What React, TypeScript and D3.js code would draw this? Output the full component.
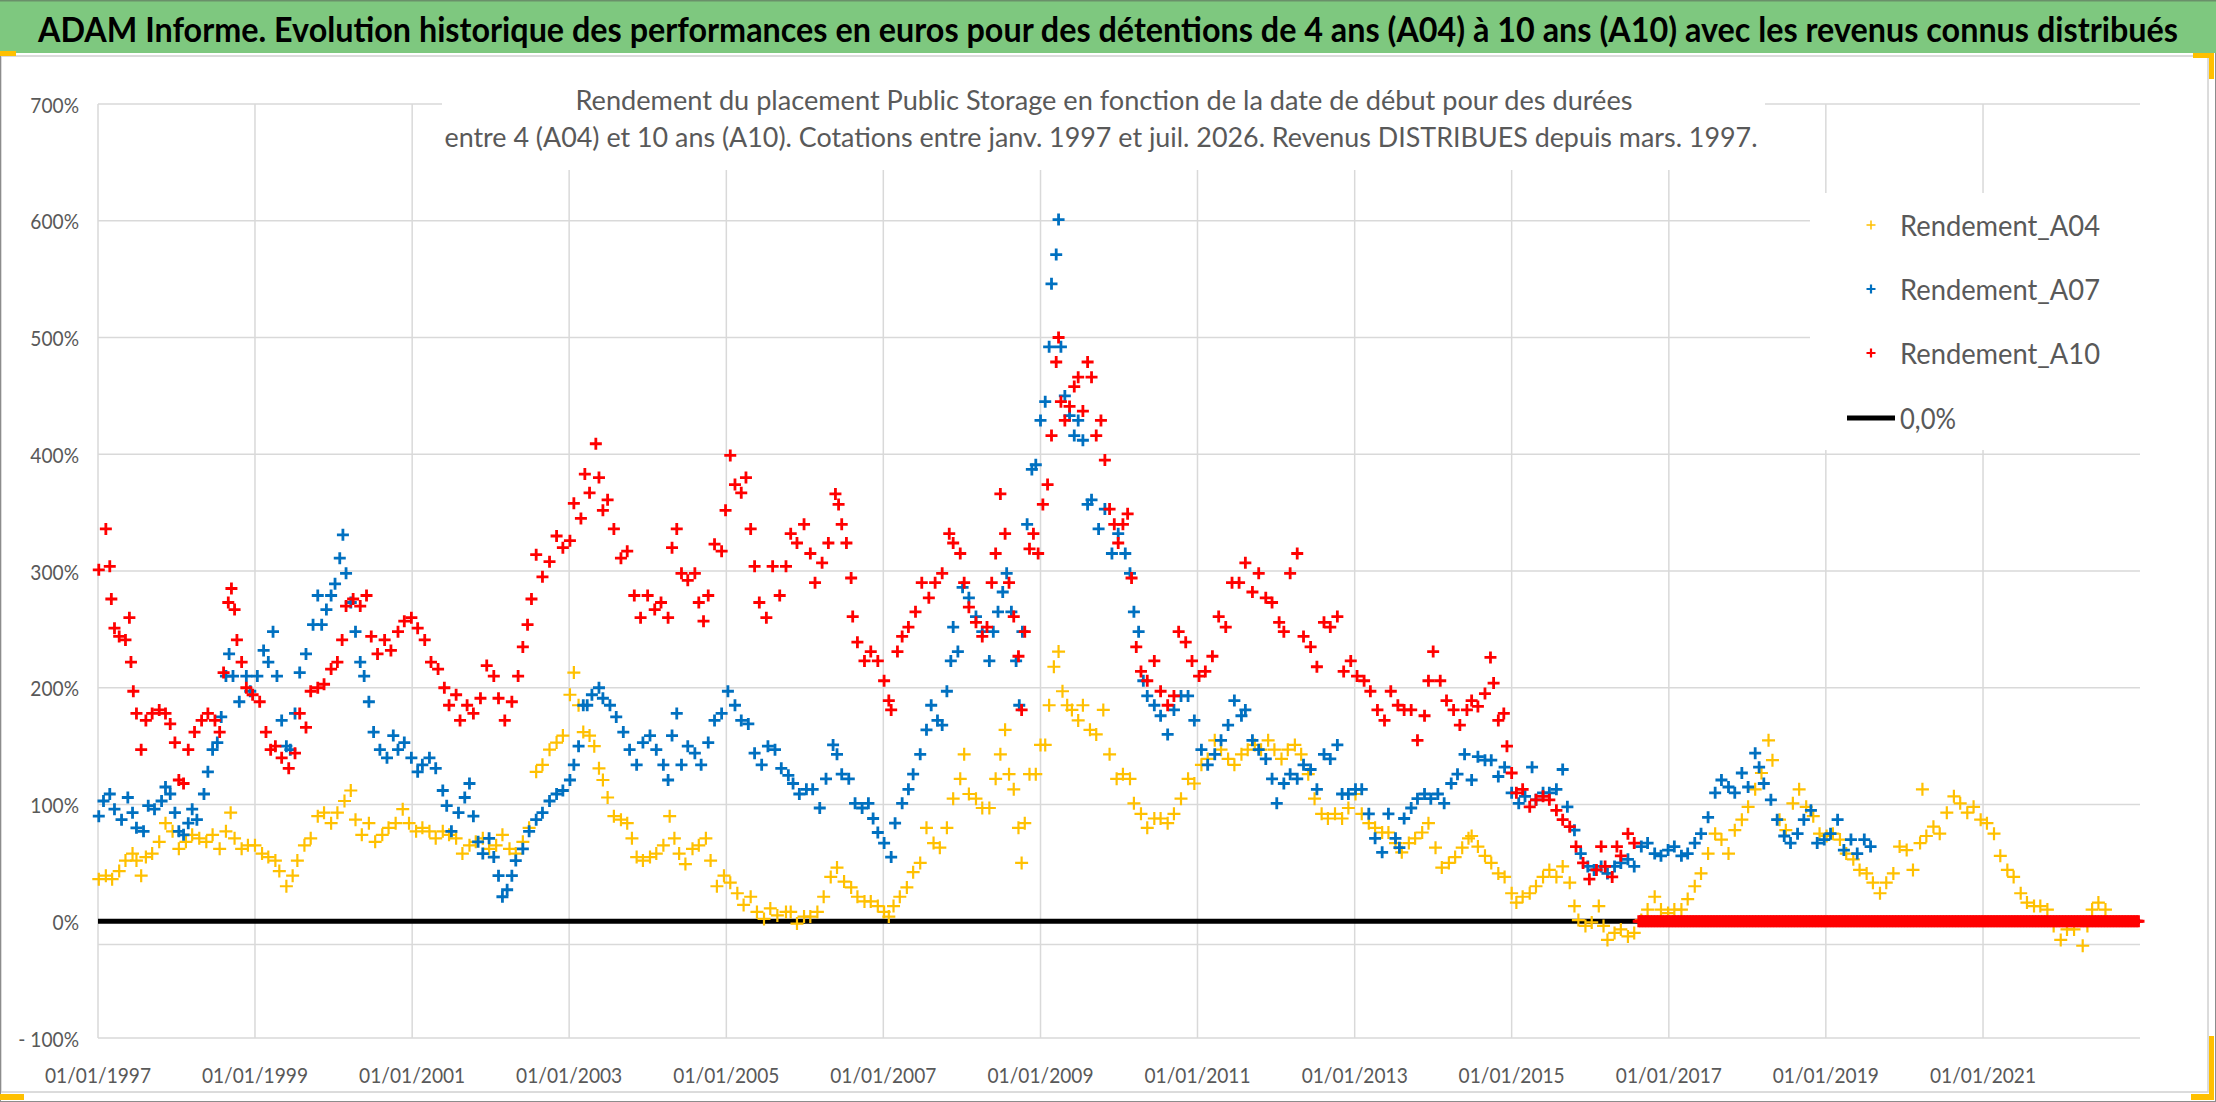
import { useEffect, useRef } from 'react';
import * as d3 from 'd3';

// [start date as decimal year, return (1 = 100%)]
type Pt = [number, number];

const rendementA04: Pt[] = [
  [1997.01, 0.36], [1997.10, 0.39], [1997.18, 0.36], [1997.27, 0.43], [1997.35, 0.52], [1997.44, 0.58], [1997.49, 0.52], [1997.55, 0.39],
  [1997.61, 0.55], [1997.69, 0.58], [1997.78, 0.68], [1997.86, 0.84], [1997.95, 0.77], [1998.03, 0.62], [1998.12, 0.68], [1998.20, 0.74],
  [1998.29, 0.71], [1998.38, 0.68], [1998.46, 0.74], [1998.55, 0.62], [1998.63, 0.77], [1998.69, 0.93], [1998.74, 0.71], [1998.83, 0.62],
  [1998.91, 0.65], [1999.00, 0.65], [1999.09, 0.58], [1999.17, 0.55], [1999.26, 0.52], [1999.31, 0.43], [1999.40, 0.30], [1999.48, 0.39],
  [1999.54, 0.52], [1999.63, 0.65], [1999.71, 0.71], [1999.80, 0.90], [1999.88, 0.93], [1999.97, 0.84], [2000.05, 0.93], [2000.14, 1.03],
  [2000.22, 1.12], [2000.28, 0.87], [2000.36, 0.74], [2000.45, 0.84], [2000.53, 0.68], [2000.62, 0.74], [2000.70, 0.80], [2000.79, 0.84],
  [2000.88, 0.96], [2000.96, 0.84], [2001.05, 0.77], [2001.13, 0.80], [2001.22, 0.77], [2001.30, 0.71], [2001.39, 0.77], [2001.47, 0.74],
  [2001.56, 0.71], [2001.64, 0.58], [2001.73, 0.65], [2001.81, 0.68], [2001.90, 0.71], [2001.98, 0.62], [2002.07, 0.65], [2002.15, 0.74],
  [2002.24, 0.62], [2002.32, 0.58], [2002.41, 0.68], [2002.49, 0.80], [2002.58, 1.28], [2002.66, 1.34], [2002.75, 1.47], [2002.84, 1.53],
  [2002.92, 1.59], [2003.01, 1.94], [2003.06, 2.13], [2003.12, 1.85], [2003.18, 1.62], [2003.26, 1.59], [2003.32, 1.50], [2003.38, 1.31],
  [2003.43, 1.21], [2003.49, 1.06], [2003.57, 0.90], [2003.66, 0.87], [2003.74, 0.84], [2003.80, 0.71], [2003.86, 0.55], [2003.94, 0.52],
  [2004.03, 0.55], [2004.11, 0.58], [2004.20, 0.65], [2004.28, 0.90], [2004.34, 0.71], [2004.40, 0.58], [2004.48, 0.49], [2004.57, 0.62],
  [2004.65, 0.65], [2004.74, 0.71], [2004.80, 0.52], [2004.88, 0.30], [2004.97, 0.39], [2005.05, 0.33], [2005.14, 0.24], [2005.22, 0.14],
  [2005.31, 0.21], [2005.39, 0.08], [2005.48, 0.02], [2005.56, 0.11], [2005.65, 0.05], [2005.76, 0.08], [2005.82, 0.08], [2005.90, -0.02],
  [2005.99, 0.04], [2006.07, 0.04], [2006.16, 0.08], [2006.24, 0.21], [2006.33, 0.38], [2006.41, 0.46], [2006.50, 0.34], [2006.59, 0.29],
  [2006.67, 0.21], [2006.76, 0.17], [2006.84, 0.17], [2006.93, 0.13], [2007.01, 0.08], [2007.07, 0.04], [2007.13, 0.13], [2007.21, 0.21],
  [2007.30, 0.29], [2007.38, 0.42], [2007.47, 0.50], [2007.55, 0.80], [2007.64, 0.67], [2007.72, 0.63], [2007.81, 0.80], [2007.89, 1.05],
  [2007.98, 1.22], [2008.03, 1.43], [2008.09, 1.09], [2008.18, 1.05], [2008.26, 0.97], [2008.35, 0.97], [2008.43, 1.22], [2008.49, 1.43],
  [2008.55, 1.64], [2008.60, 1.26], [2008.66, 1.13], [2008.72, 0.80], [2008.76, 0.50], [2008.80, 0.84], [2008.86, 1.26], [2008.94, 1.26],
  [2009.00, 1.51], [2009.06, 1.51], [2009.11, 1.85], [2009.17, 2.18], [2009.23, 2.31], [2009.28, 1.97], [2009.34, 1.85], [2009.40, 1.81],
  [2009.48, 1.72], [2009.54, 1.85], [2009.63, 1.64], [2009.71, 1.60], [2009.80, 1.81], [2009.88, 1.43], [2009.97, 1.22], [2010.05, 1.26],
  [2010.14, 1.22], [2010.19, 1.01], [2010.28, 0.92], [2010.36, 0.80], [2010.45, 0.88], [2010.53, 0.88], [2010.62, 0.84], [2010.70, 0.92],
  [2010.79, 1.05], [2010.88, 1.22], [2010.96, 1.18], [2011.05, 1.34], [2011.13, 1.39], [2011.22, 1.55], [2011.30, 1.47], [2011.39, 1.39],
  [2011.47, 1.34], [2011.56, 1.43], [2011.64, 1.47], [2011.73, 1.51], [2011.81, 1.47], [2011.90, 1.55], [2011.98, 1.47], [2012.07, 1.39],
  [2012.15, 1.47], [2012.24, 1.51], [2012.32, 1.43], [2012.41, 1.26], [2012.49, 1.05], [2012.58, 0.92], [2012.66, 0.88], [2012.75, 0.92],
  [2012.84, 0.88], [2012.92, 0.97], [2013.01, 1.09], [2013.09, 0.92], [2013.18, 0.84], [2013.26, 0.80], [2013.35, 0.76], [2013.43, 0.76],
  [2013.52, 0.67], [2013.60, 0.59], [2013.69, 0.67], [2013.77, 0.71], [2013.86, 0.76], [2013.94, 0.84], [2014.03, 0.63], [2014.11, 0.46],
  [2014.20, 0.50], [2014.28, 0.55], [2014.37, 0.63], [2014.45, 0.71], [2014.49, 0.73], [2014.57, 0.64], [2014.66, 0.56], [2014.74, 0.50],
  [2014.83, 0.41], [2014.91, 0.38], [2015.00, 0.24], [2015.06, 0.16], [2015.14, 0.21], [2015.23, 0.24], [2015.31, 0.30], [2015.40, 0.38],
  [2015.48, 0.44], [2015.57, 0.38], [2015.65, 0.47], [2015.74, 0.33], [2015.80, 0.13], [2015.85, 0.01], [2015.94, -0.04], [2016.02, -0.01],
  [2016.11, 0.13], [2016.17, -0.04], [2016.22, -0.16], [2016.31, -0.10], [2016.39, -0.07], [2016.48, -0.13], [2016.56, -0.10], [2016.65, 0.01],
  [2016.73, 0.10], [2016.82, 0.21], [2016.90, 0.10], [2016.99, 0.07], [2017.07, 0.10], [2017.16, 0.10], [2017.24, 0.19], [2017.33, 0.30],
  [2017.41, 0.41], [2017.50, 0.58], [2017.59, 0.75], [2017.67, 0.70], [2017.76, 0.58], [2017.84, 0.78], [2017.93, 0.87], [2018.01, 0.98],
  [2018.10, 1.13], [2018.18, 1.27], [2018.27, 1.55], [2018.32, 1.38], [2018.41, 0.87], [2018.49, 0.78], [2018.58, 1.01], [2018.66, 1.13],
  [2018.75, 0.98], [2018.84, 0.90], [2018.92, 0.75], [2019.01, 0.73], [2019.09, 0.75], [2019.18, 0.70], [2019.26, 0.58], [2019.35, 0.53],
  [2019.43, 0.44], [2019.52, 0.41], [2019.60, 0.33], [2019.69, 0.24], [2019.77, 0.33], [2019.86, 0.41], [2019.94, 0.64], [2020.03, 0.61],
  [2020.11, 0.44], [2020.20, 0.67], [2020.23, 1.13], [2020.28, 0.73], [2020.37, 0.81], [2020.45, 0.75], [2020.54, 0.93], [2020.63, 1.07],
  [2020.71, 1.01], [2020.80, 0.93], [2020.88, 0.98], [2020.97, 0.87], [2021.05, 0.84], [2021.14, 0.75], [2021.22, 0.56], [2021.31, 0.44],
  [2021.39, 0.38], [2021.48, 0.24], [2021.56, 0.16], [2021.65, 0.13], [2021.73, 0.13], [2021.82, 0.10], [2021.90, -0.04], [2021.99, -0.16],
  [2022.07, -0.07], [2022.16, -0.07], [2022.27, -0.21], [2022.33, -0.04], [2022.39, 0.10], [2022.47, 0.16], [2022.56, 0.10],
];

const rendementA07: Pt[] = [
  [1997.01, 0.90], [1997.07, 1.03], [1997.15, 1.09], [1997.21, 0.96], [1997.30, 0.87], [1997.38, 1.06], [1997.44, 0.93], [1997.49, 0.80],
  [1997.58, 0.77], [1997.64, 0.99], [1997.72, 0.96], [1997.81, 1.03], [1997.86, 1.15], [1997.92, 1.09], [1997.98, 0.93], [1998.03, 0.77],
  [1998.09, 0.74], [1998.15, 0.84], [1998.20, 0.96], [1998.26, 0.87], [1998.35, 1.09], [1998.40, 1.28], [1998.46, 1.47], [1998.52, 1.53],
  [1998.57, 1.75], [1998.63, 2.10], [1998.67, 2.29], [1998.72, 2.10], [1998.80, 1.88], [1998.89, 2.10], [1998.94, 1.97], [1999.03, 2.10],
  [1999.11, 2.32], [1999.17, 2.22], [1999.23, 2.48], [1999.28, 2.10], [1999.34, 1.72], [1999.40, 1.50], [1999.45, 1.47], [1999.51, 1.78],
  [1999.57, 2.13], [1999.65, 2.29], [1999.74, 2.54], [1999.80, 2.79], [1999.85, 2.54], [1999.91, 2.67], [1999.97, 2.79], [2000.02, 2.89],
  [2000.08, 3.11], [2000.12, 3.31], [2000.16, 2.98], [2000.22, 2.73], [2000.28, 2.48], [2000.34, 2.22], [2000.39, 2.10], [2000.45, 1.88],
  [2000.51, 1.62], [2000.59, 1.47], [2000.68, 1.40], [2000.76, 1.59], [2000.82, 1.47], [2000.90, 1.53], [2000.99, 1.40], [2001.07, 1.28],
  [2001.13, 1.34], [2001.22, 1.40], [2001.30, 1.31], [2001.39, 1.12], [2001.44, 0.99], [2001.50, 0.77], [2001.59, 0.93], [2001.67, 1.06],
  [2001.73, 1.18], [2001.78, 0.90], [2001.84, 0.68], [2001.90, 0.58], [2001.98, 0.71], [2002.04, 0.55], [2002.10, 0.39], [2002.15, 0.21],
  [2002.21, 0.27], [2002.27, 0.39], [2002.32, 0.52], [2002.41, 0.62], [2002.49, 0.77], [2002.58, 0.87], [2002.66, 0.93], [2002.75, 1.03],
  [2002.84, 1.09], [2002.92, 1.12], [2003.01, 1.21], [2003.06, 1.34], [2003.12, 1.50], [2003.18, 1.85], [2003.23, 1.85], [2003.29, 1.94],
  [2003.38, 2.00], [2003.43, 1.91], [2003.52, 1.85], [2003.60, 1.75], [2003.69, 1.62], [2003.77, 1.47], [2003.86, 1.34], [2003.94, 1.53],
  [2004.03, 1.59], [2004.11, 1.47], [2004.20, 1.34], [2004.26, 1.21], [2004.31, 1.59], [2004.37, 1.78], [2004.43, 1.34], [2004.51, 1.50],
  [2004.60, 1.44], [2004.68, 1.34], [2004.77, 1.53], [2004.85, 1.72], [2004.94, 1.78], [2005.02, 1.97], [2005.11, 1.85], [2005.19, 1.72],
  [2005.28, 1.69], [2005.36, 1.44], [2005.45, 1.34], [2005.53, 1.50], [2005.62, 1.47], [2005.70, 1.31], [2005.79, 1.25], [2005.85, 1.18],
  [2005.93, 1.09], [2006.02, 1.13], [2006.10, 1.13], [2006.19, 0.97], [2006.27, 1.22], [2006.36, 1.51], [2006.41, 1.43], [2006.47, 1.26],
  [2006.56, 1.22], [2006.64, 1.01], [2006.73, 0.97], [2006.81, 1.01], [2006.87, 0.88], [2006.93, 0.76], [2007.01, 0.67], [2007.10, 0.55],
  [2007.15, 0.84], [2007.24, 1.01], [2007.32, 1.13], [2007.38, 1.26], [2007.47, 1.43], [2007.55, 1.64], [2007.61, 1.85], [2007.69, 1.72],
  [2007.75, 1.68], [2007.81, 1.97], [2007.86, 2.23], [2007.89, 2.52], [2007.95, 2.31], [2008.01, 2.86], [2008.09, 2.77], [2008.18, 2.61],
  [2008.26, 2.48], [2008.35, 2.23], [2008.40, 2.48], [2008.46, 2.65], [2008.52, 2.82], [2008.57, 2.98], [2008.63, 2.65], [2008.69, 2.23],
  [2008.73, 1.85], [2008.77, 2.48], [2008.83, 3.40], [2008.89, 3.87], [2008.94, 3.91], [2009.00, 4.29], [2009.06, 4.45], [2009.11, 4.92],
  [2009.14, 5.46], [2009.20, 5.71], [2009.23, 6.01], [2009.26, 4.92], [2009.31, 4.50], [2009.37, 4.33], [2009.43, 4.16], [2009.48, 4.29],
  [2009.54, 4.12], [2009.60, 3.57], [2009.65, 3.61], [2009.74, 3.36], [2009.82, 3.53], [2009.91, 3.15], [2009.99, 3.32], [2010.08, 3.15],
  [2010.14, 2.98], [2010.19, 2.65], [2010.25, 2.48], [2010.31, 2.06], [2010.36, 1.93], [2010.45, 1.85], [2010.53, 1.76], [2010.62, 1.60],
  [2010.70, 1.81], [2010.79, 1.93], [2010.88, 1.93], [2010.96, 1.72], [2011.05, 1.47], [2011.13, 1.34], [2011.22, 1.43], [2011.30, 1.55],
  [2011.39, 1.68], [2011.47, 1.89], [2011.56, 1.76], [2011.61, 1.81], [2011.70, 1.55], [2011.78, 1.47], [2011.87, 1.39], [2011.95, 1.22],
  [2012.01, 1.01], [2012.10, 1.18], [2012.18, 1.26], [2012.27, 1.22], [2012.35, 1.34], [2012.44, 1.30], [2012.52, 1.13], [2012.61, 1.43],
  [2012.69, 1.39], [2012.78, 1.51], [2012.84, 1.09], [2012.92, 1.09], [2013.01, 1.13], [2013.09, 1.13], [2013.18, 0.92], [2013.26, 0.71],
  [2013.35, 0.59], [2013.43, 0.92], [2013.52, 0.71], [2013.57, 0.63], [2013.63, 0.88], [2013.72, 0.97], [2013.80, 1.05], [2013.89, 1.09],
  [2013.97, 1.05], [2014.06, 1.09], [2014.14, 1.01], [2014.23, 1.18], [2014.31, 1.26], [2014.40, 1.43], [2014.49, 1.21], [2014.57, 1.41],
  [2014.66, 1.38], [2014.74, 1.38], [2014.83, 1.24], [2014.91, 1.32], [2015.00, 1.10], [2015.09, 1.01], [2015.17, 1.07], [2015.26, 1.32],
  [2015.31, 1.04], [2015.40, 1.10], [2015.48, 1.10], [2015.57, 1.13], [2015.65, 1.30], [2015.71, 0.98], [2015.80, 0.78], [2015.88, 0.58],
  [2015.97, 0.47], [2016.05, 0.44], [2016.14, 0.47], [2016.22, 0.41], [2016.31, 0.47], [2016.39, 0.50], [2016.48, 0.53], [2016.56, 0.47],
  [2016.65, 0.64], [2016.73, 0.67], [2016.82, 0.58], [2016.90, 0.56], [2016.99, 0.61], [2017.07, 0.64], [2017.16, 0.56], [2017.24, 0.58],
  [2017.33, 0.67], [2017.41, 0.75], [2017.50, 0.89], [2017.59, 1.10], [2017.67, 1.21], [2017.76, 1.15], [2017.84, 1.10], [2017.93, 1.27],
  [2018.01, 1.15], [2018.10, 1.44], [2018.15, 1.32], [2018.21, 1.18], [2018.30, 1.04], [2018.38, 0.87], [2018.47, 0.73], [2018.55, 0.67],
  [2018.64, 0.75], [2018.72, 0.87], [2018.81, 0.95], [2018.89, 0.67], [2018.98, 0.70], [2019.06, 0.75], [2019.15, 0.87], [2019.23, 0.61],
  [2019.32, 0.70], [2019.40, 0.58], [2019.49, 0.70], [2019.57, 0.64],
];

const rendementA10: Pt[] = [
  [1997.01, 3.01], [1997.10, 3.36], [1997.15, 3.04], [1997.17, 2.76], [1997.21, 2.51], [1997.27, 2.44], [1997.35, 2.41], [1997.40, 2.60],
  [1997.42, 2.22], [1997.45, 1.97], [1997.49, 1.78], [1997.55, 1.47], [1997.61, 1.72], [1997.69, 1.78], [1997.78, 1.81], [1997.86, 1.78],
  [1997.92, 1.69], [1997.98, 1.53], [1998.03, 1.21], [1998.09, 1.18], [1998.15, 1.47], [1998.23, 1.62], [1998.32, 1.72], [1998.40, 1.78],
  [1998.49, 1.72], [1998.55, 1.62], [1998.60, 2.13], [1998.66, 2.73], [1998.70, 2.85], [1998.74, 2.67], [1998.77, 2.41], [1998.83, 2.22],
  [1998.89, 2.00], [1998.97, 1.94], [1999.06, 1.88], [1999.14, 1.62], [1999.20, 1.47], [1999.26, 1.50], [1999.34, 1.40], [1999.43, 1.31],
  [1999.51, 1.44], [1999.57, 1.78], [1999.65, 1.66], [1999.71, 1.97], [1999.80, 2.00], [1999.88, 2.03], [1999.97, 2.16], [2000.05, 2.22],
  [2000.11, 2.41], [2000.16, 2.70], [2000.25, 2.76], [2000.34, 2.70], [2000.42, 2.79], [2000.48, 2.44], [2000.56, 2.29], [2000.65, 2.41],
  [2000.73, 2.32], [2000.82, 2.48], [2000.90, 2.57], [2000.99, 2.60], [2001.07, 2.51], [2001.16, 2.41], [2001.24, 2.22], [2001.33, 2.16],
  [2001.41, 2.00], [2001.47, 1.85], [2001.56, 1.94], [2001.61, 1.72], [2001.70, 1.85], [2001.78, 1.78], [2001.87, 1.91], [2001.95, 2.19],
  [2002.04, 2.10], [2002.10, 1.91], [2002.18, 1.72], [2002.27, 1.88], [2002.35, 2.10], [2002.41, 2.35], [2002.47, 2.54], [2002.52, 2.76],
  [2002.58, 3.14], [2002.66, 2.95], [2002.75, 3.08], [2002.84, 3.30], [2002.92, 3.20], [2003.01, 3.26], [2003.06, 3.58], [2003.15, 3.45],
  [2003.20, 3.83], [2003.26, 3.67], [2003.34, 4.09], [2003.38, 3.80], [2003.43, 3.52], [2003.49, 3.61], [2003.57, 3.36], [2003.66, 3.11],
  [2003.74, 3.17], [2003.83, 2.79], [2003.91, 2.60], [2004.00, 2.79], [2004.09, 2.67], [2004.17, 2.73], [2004.26, 2.60], [2004.31, 3.20],
  [2004.37, 3.36], [2004.43, 2.98], [2004.51, 2.92], [2004.60, 2.98], [2004.65, 2.73], [2004.71, 2.57], [2004.77, 2.79], [2004.85, 3.23],
  [2004.94, 3.17], [2004.99, 3.52], [2005.05, 3.99], [2005.11, 3.74], [2005.19, 3.67], [2005.25, 3.80], [2005.31, 3.36], [2005.36, 3.04],
  [2005.42, 2.73], [2005.51, 2.60], [2005.59, 3.04], [2005.68, 2.79], [2005.76, 3.04], [2005.82, 3.32], [2005.90, 3.24], [2005.99, 3.40],
  [2006.07, 3.15], [2006.13, 2.90], [2006.22, 3.07], [2006.30, 3.24], [2006.39, 3.66], [2006.43, 3.57], [2006.47, 3.40], [2006.53, 3.24],
  [2006.59, 2.94], [2006.61, 2.61], [2006.67, 2.39], [2006.76, 2.23], [2006.84, 2.31], [2006.93, 2.23], [2007.01, 2.06], [2007.07, 1.89],
  [2007.10, 1.81], [2007.18, 2.31], [2007.24, 2.44], [2007.32, 2.52], [2007.41, 2.65], [2007.49, 2.90], [2007.58, 2.77], [2007.66, 2.90],
  [2007.75, 2.98], [2007.84, 3.32], [2007.89, 3.24], [2007.98, 3.15], [2008.03, 2.90], [2008.09, 2.69], [2008.18, 2.56], [2008.26, 2.44],
  [2008.32, 2.52], [2008.38, 2.90], [2008.43, 3.15], [2008.49, 3.66], [2008.55, 3.32], [2008.60, 2.90], [2008.66, 2.61], [2008.72, 2.27],
  [2008.76, 1.81], [2008.80, 2.48], [2008.86, 3.19], [2008.91, 3.32], [2008.97, 3.15], [2009.03, 3.57], [2009.09, 3.74], [2009.14, 4.16],
  [2009.20, 4.79], [2009.23, 5.00], [2009.26, 4.45], [2009.31, 4.29], [2009.37, 4.41], [2009.43, 4.58], [2009.48, 4.66], [2009.54, 4.37],
  [2009.60, 4.79], [2009.65, 4.66], [2009.71, 4.16], [2009.77, 4.29], [2009.82, 3.95], [2009.88, 3.53], [2009.94, 3.40], [2009.99, 3.24],
  [2010.05, 3.40], [2010.11, 3.49], [2010.16, 2.94], [2010.22, 2.35], [2010.28, 2.14], [2010.36, 2.06], [2010.45, 2.23], [2010.53, 1.97],
  [2010.62, 1.85], [2010.70, 1.93], [2010.76, 2.48], [2010.85, 2.39], [2010.93, 2.23], [2011.02, 2.10], [2011.10, 2.14], [2011.19, 2.27],
  [2011.27, 2.61], [2011.36, 2.52], [2011.44, 2.90], [2011.53, 2.90], [2011.61, 3.07], [2011.70, 2.82], [2011.78, 2.98], [2011.87, 2.77],
  [2011.95, 2.73], [2012.04, 2.56], [2012.10, 2.48], [2012.18, 2.98], [2012.27, 3.15], [2012.35, 2.44], [2012.44, 2.35], [2012.52, 2.18],
  [2012.61, 2.56], [2012.69, 2.52], [2012.78, 2.61], [2012.86, 2.14], [2012.95, 2.23], [2013.03, 2.10], [2013.12, 2.06], [2013.20, 1.97],
  [2013.29, 1.81], [2013.38, 1.72], [2013.46, 1.97], [2013.55, 1.85], [2013.63, 1.81], [2013.72, 1.81], [2013.80, 1.55], [2013.89, 1.76],
  [2013.94, 2.06], [2014.00, 2.31], [2014.09, 2.06], [2014.17, 1.89], [2014.26, 1.81], [2014.34, 1.68], [2014.43, 1.81], [2014.49, 1.89],
  [2014.57, 1.84], [2014.66, 1.95], [2014.73, 2.26], [2014.77, 2.04], [2014.83, 1.72], [2014.90, 1.78], [2014.94, 1.50], [2015.00, 1.27],
  [2015.06, 1.10], [2015.14, 1.13], [2015.23, 0.98], [2015.31, 1.04], [2015.40, 1.07], [2015.48, 1.04], [2015.57, 0.95], [2015.65, 0.87],
  [2015.74, 0.81], [2015.82, 0.64], [2015.91, 0.50], [2015.99, 0.36], [2016.08, 0.44], [2016.14, 0.64], [2016.19, 0.47], [2016.28, 0.38],
  [2016.34, 0.64], [2016.39, 0.56], [2016.48, 0.75], [2016.56, 0.67],
];

// A10 has no complete 10-year window after this date: shown at 0%
const a10ZeroPeriod = [2016.6, 2023.0];

const yTicks = [-1, 0, 1, 2, 3, 4, 5, 6, 7];
const extraGridValue = -0.2;
const xTickYears = [1997, 1999, 2001, 2003, 2005, 2007, 2009, 2011, 2013, 2015, 2017, 2019, 2021];
const xDomainYears = [1997, 2023];

const seriesNames = ['Rendement_A04', 'Rendement_A07', 'Rendement_A10'];
const seriesColors = ['#FFC000', '#0070C0', '#FF0000'];
const zeroLineLabel = '0,0%';

const titleText =
  'ADAM Informe. Evolution historique des performances en euros pour des détentions de 4 ans (A04) à 10 ans (A10) avec les revenus connus distribués';
const subtitleLines = [
  'Rendement du placement Public Storage en fonction de la date de début pour des durées',
  'entre 4 (A04) et 10 ans (A10). Cotations entre janv. 1997 et juil. 2026. Revenus DISTRIBUES depuis mars. 1997.',
];

const W = 2216;
const H = 1102;
const FONT = 'Lato, "Open Sans", sans-serif';

const toDate = (y: number) => {
  const yr = Math.floor(y);
  const a = Date.UTC(yr, 0, 1);
  const b = Date.UTC(yr + 1, 0, 1);
  return new Date(a + (y - yr) * (b - a));
};

// squeeze text horizontally (the source chart uses a narrow font)
function squeeze(sel: d3.Selection<SVGTextElement, any, any, any>, k: number) {
  sel.each(function () {
    const l = this.getComputedTextLength();
    this.setAttribute('textLength', String(l * k));
    this.setAttribute('lengthAdjust', 'spacingAndGlyphs');
  });
}

export default function App() {
  const svgRef = useRef<SVGSVGElement>(null);

  useEffect(() => {
    if (!svgRef.current) return;
    const svg = d3.select(svgRef.current);
    svg.selectAll('*').remove();

    const x = d3.scaleUtc()
      .domain(xDomainYears.map(toDate))
      .range([98, 2140]);
    const y = d3.scaleLinear()
      .domain([-1, 7])
      .range([1038, 104]);

    // background + frames
    svg.append('rect').attr('width', W).attr('height', H).attr('fill', '#fff');
    svg.append('rect').attr('x', 1).attr('y', 56).attr('width', 2207).attr('height', 1036)
      .attr('fill', 'none').attr('stroke', '#d0d0d0').attr('stroke-width', 1.5);
    svg.append('rect').attr('x', 0.5).attr('y', 0.5).attr('width', W - 1).attr('height', H - 1)
      .attr('fill', 'none').attr('stroke', '#8c8c8c').attr('stroke-width', 1);

    // title bar
    svg.append('rect').attr('x', 0).attr('y', 0).attr('width', W).attr('height', 53).attr('fill', '#7EC87F');
    svg.append('line').attr('x1', 0).attr('x2', W).attr('y1', 0.75).attr('y2', 0.75)
      .attr('stroke', '#6a8f6a').attr('stroke-width', 1.5);
    svg.append('text')
      .attr('x', W / 2).attr('y', 28).attr('text-anchor', 'middle').attr('dominant-baseline', 'central')
      .attr('font-family', FONT).attr('font-weight', 700).attr('font-size', 34).attr('fill', '#000')
      .attr('textLength', 2140).attr('lengthAdjust', 'spacingAndGlyphs')
      .text(titleText);

    // selection handles of the source screenshot
    const handles = [[0, 51, 16, 5], [2193, 53, 20, 5], [2209, 53, 5, 26], [0, 1094, 24, 6], [2191, 1094, 22, 6], [2209, 1036, 5, 64]];
    svg.append('g').selectAll('rect').data(handles).join('rect')
      .attr('x', d => d[0]).attr('y', d => d[1]).attr('width', d => d[2]).attr('height', d => d[3])
      .attr('fill', '#FFC000');

    // grid
    const grid = svg.append('g').attr('stroke', '#d9d9d9').attr('stroke-width', 1.5);
    grid.selectAll('line.h').data([...yTicks, extraGridValue]).join('line')
      .attr('class', 'h')
      .attr('x1', 98).attr('x2', 2140)
      .attr('y1', d => y(d)).attr('y2', d => y(d));
    grid.selectAll('line.v').data(xTickYears).join('line')
      .attr('class', 'v')
      .attr('x1', d => x(toDate(d))).attr('x2', d => x(toDate(d)))
      .attr('y1', y(7)).attr('y2', y(-1));

    // y labels
    const yl = svg.append('g').selectAll('text').data(yTicks).join('text')
      .attr('x', 79).attr('y', d => y(d)).attr('text-anchor', 'end').attr('dominant-baseline', 'central')
      .attr('font-family', FONT).attr('font-size', 22).attr('fill', '#595959')
      .text(d => (d < 0 ? `- ${Math.round(-d * 100)}%` : `${Math.round(d * 100)}%`));
    squeeze(yl, 0.87);

    // x labels
    const fmt = d3.utcFormat('%d/%m/%Y');
    const xl = svg.append('g').selectAll('text').data(xTickYears).join('text')
      .attr('x', d => x(toDate(d))).attr('y', 1074).attr('text-anchor', 'middle').attr('dominant-baseline', 'central')
      .attr('font-family', FONT).attr('font-size', 22).attr('fill', '#595959')
      .text(d => fmt(toDate(d)));
    squeeze(xl, 0.87);

    // subtitle box
    svg.append('rect').attr('x', 442).attr('y', 60).attr('width', 1323).attr('height', 110).attr('fill', '#fff');
    svg.append('g').selectAll('text').data(subtitleLines).join('text')
      .attr('x', (d, i) => (i === 0 ? 1104 : 1101)).attr('y', (d, i) => 100 + i * 37)
      .attr('text-anchor', 'middle').attr('dominant-baseline', 'central')
      .attr('font-family', FONT).attr('font-size', 26).attr('fill', '#595959')
      .attr('textLength', (d, i) => (i === 0 ? 1057 : 1313)).attr('lengthAdjust', 'spacingAndGlyphs')
      .text(d => d);

    // zero line
    svg.append('line')
      .attr('x1', x(toDate(xDomainYears[0]))).attr('x2', x(toDate(xDomainYears[1])))
      .attr('y1', y(0)).attr('y2', y(0))
      .attr('stroke', '#000').attr('stroke-width', 5);

    const crossPath = (s: number) => (d: [Date, number]) => {
      const cx = x(d[0]);
      const cy = y(d[1]);
      return `M${cx - s},${cy}h${2 * s}M${cx},${cy - s}v${2 * s}`;
    };

    const a10Zeros: [Date, number][] = d3.utcWeek
      .range(toDate(a10ZeroPeriod[0]), toDate(a10ZeroPeriod[1]))
      .map(d => [d, 0]);

    const allSeries: [Date, number][][] = [rendementA04, rendementA07, rendementA10].map(s =>
      s.map(p => [toDate(p[0]), p[1]] as [Date, number])
    );
    allSeries[2] = allSeries[2].concat(a10Zeros);

    const widths = [2.2, 2.8, 2.8];
    const sizes = [6.5, 6, 6];
    allSeries.forEach((pts, i) => {
      svg.append('g')
        .attr('stroke', seriesColors[i]).attr('stroke-width', widths[i]).attr('fill', 'none')
        .selectAll('path').data(pts).join('path')
        .attr('d', crossPath(sizes[i]));
    });

    // legend
    const lg = svg.append('g');
    lg.append('rect').attr('x', 1810).attr('y', 193).attr('width', 330).attr('height', 257).attr('fill', '#fff');
    const rowY = [225, 289, 353];
    seriesNames.forEach((name, i) => {
      lg.append('path')
        .attr('d', `M${1871 - 4.5},${rowY[i]}h9M1871,${rowY[i] - 4.5}v9`)
        .attr('stroke', seriesColors[i]).attr('stroke-width', i === 0 ? 1.5 : 2.2);
      lg.append('text')
        .attr('x', 1900).attr('y', rowY[i]).attr('dominant-baseline', 'central')
        .attr('font-family', FONT).attr('font-size', 28).attr('fill', '#595959')
        .attr('textLength', 200).attr('lengthAdjust', 'spacingAndGlyphs')
        .text(name);
    });
    lg.append('line').attr('x1', 1847).attr('x2', 1895).attr('y1', 418).attr('y2', 418)
      .attr('stroke', '#000').attr('stroke-width', 5);
    lg.append('text')
      .attr('x', 1900).attr('y', 418).attr('dominant-baseline', 'central')
      .attr('font-family', FONT).attr('font-size', 28).attr('fill', '#595959')
      .attr('textLength', 56).attr('lengthAdjust', 'spacingAndGlyphs')
      .text(zeroLineLabel);
  }, []);

  return (
    <svg
      ref={svgRef}
      width={W}
      height={H}
      style={{ position: 'absolute', left: 0, top: 0, display: 'block' }}
    />
  );
}
